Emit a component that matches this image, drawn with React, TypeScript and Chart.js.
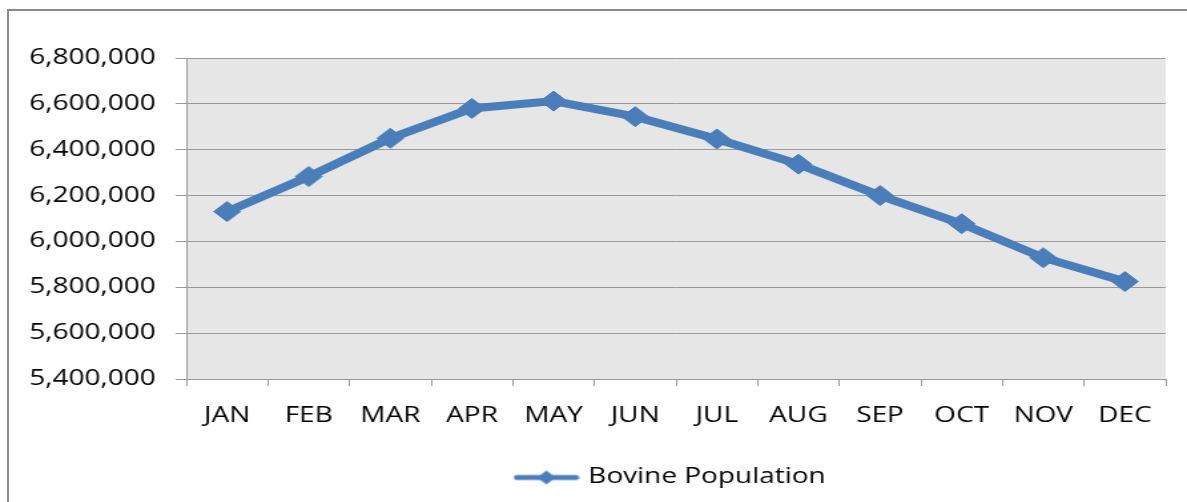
import React, { useEffect, useRef } from "react";
import { Chart, registerables } from "chart.js";

Chart.register(...registerables);

const months = ["JAN", "FEB", "MAR", "APR", "MAY", "JUN", "JUL", "AUG", "SEP", "OCT", "NOV", "DEC"];
const bovinePopulation = [6130000, 6283000, 6450000, 6580000, 6612000, 6544000, 6447000, 6337000, 6200000, 6077000, 5929000, 5825000];
const seriesLabel = "Bovine Population";
const yMin = 5400000;
const yMax = 6800000;
const yStep = 200000;

const LOGICAL_W = 892;
const LOGICAL_H = 502;
const STRETCH = 1187 / LOGICAL_W;
const BLUE = "#4A7EBB";
const GRID = "#9a9a9a";

function makeLegendSymbol(): HTMLCanvasElement {
  const c = document.createElement("canvas");
  c.width = 50;
  c.height = 16;
  const ctx = c.getContext("2d")!;
  ctx.strokeStyle = BLUE;
  ctx.lineWidth = 5;
  ctx.lineCap = "round";
  ctx.beginPath();
  ctx.moveTo(3, 8);
  ctx.lineTo(47, 8);
  ctx.stroke();
  ctx.fillStyle = BLUE;
  ctx.beginPath();
  ctx.moveTo(25, 1);
  ctx.lineTo(32, 8);
  ctx.lineTo(25, 15);
  ctx.lineTo(18, 8);
  ctx.closePath();
  ctx.fill();
  return c;
}

const plotBackground = {
  id: "plotBackground",
  beforeDraw(chart: any) {
    const { ctx, chartArea } = chart;
    ctx.save();
    ctx.fillStyle = "#e6e6e6";
    ctx.fillRect(chartArea.left, chartArea.top, chartArea.right - chartArea.left, chartArea.bottom - chartArea.top);
    ctx.restore();
  },
};

// centre the legend under the plot area rather than the whole canvas
const legendUnderPlot = {
  id: "legendUnderPlot",
  afterLayout(chart: any) {
    const legend = chart.legend;
    if (!legend) return;
    const shift = -3;
    legend.left = chart.chartArea.left + shift;
    legend.right = chart.chartArea.right + shift;
  },
};

export default function App() {
  const canvasRef = useRef<HTMLCanvasElement | null>(null);

  useEffect(() => {
    if (!canvasRef.current) return;
    const symbol = makeLegendSymbol();
    const chart = new Chart(canvasRef.current, {
      type: "line",
      data: {
        labels: months,
        datasets: [
          {
            label: seriesLabel,
            data: bovinePopulation,
            borderColor: BLUE,
            backgroundColor: BLUE,
            borderWidth: 8,
            pointStyle: "rectRot",
            pointRadius: 10,
            pointBorderWidth: 1,
            pointBackgroundColor: BLUE,
            pointBorderColor: BLUE,
            tension: 0,
          },
        ],
      },
      plugins: [plotBackground, legendUnderPlot],
      options: {
        animation: false,
        responsive: true,
        maintainAspectRatio: false,
        font: { family: "'Open Sans'", size: 21 },
        color: "#000",
        layout: { padding: { top: 58, right: 16, bottom: 4, left: 0 } },
        plugins: {
          tooltip: { enabled: false },
          legend: {
            position: "bottom",
            labels: {
              usePointStyle: true,
              pointStyle: symbol as any,
              pointStyleWidth: 42,
              padding: 10,
              color: "#000",
              font: { family: "'Open Sans'", size: 21 },
            },
          },
        },
        scales: {
          x: {
            type: "category",
            offset: true,
            afterFit(scale: any) {
              scale.height = 78;
            },
            grid: {
              offset: true,
              drawOnChartArea: false,
              drawTicks: true,
              tickLength: 7,
              color: GRID,
            },
            border: { color: GRID, width: 1 },
            ticks: {
              color: "#000",
              padding: 17,
              maxRotation: 0,
              autoSkip: false,
              font: { family: "'Open Sans'", size: 21 },
            },
          },
          y: {
            type: "linear",
            min: yMin,
            max: yMax,
            afterFit(scale: any) {
              scale.width = 140;
            },
            grid: { color: GRID, tickLength: 8, drawTicks: true },
            border: { color: GRID, width: 1 },
            ticks: {
              stepSize: yStep,
              color: "#000",
              padding: 15,
              font: { family: "'Open Sans'", size: 21 },
              callback: (v: any) => Number(v).toLocaleString("en-US"),
            },
          },
        },
      },
    });
    return () => chart.destroy();
  }, []);

  return (
    <>
      <div
        style={{
          position: "fixed",
          left: 7,
          top: 9,
          width: 2000,
          height: 1000,
          borderLeft: "2px solid #8a8a8a",
          borderTop: "2px solid #8a8a8a",
          boxSizing: "border-box",
        }}
      />
      <div
        style={{
          position: "fixed",
          left: 0,
          top: 0,
          width: LOGICAL_W,
          height: LOGICAL_H,
          transform: `scaleX(${STRETCH})`,
          transformOrigin: "0 0",
        }}
      >
        <div style={{ position: "relative", width: LOGICAL_W, height: LOGICAL_H }}>
          <canvas ref={canvasRef} />
        </div>
      </div>
    </>
  );
}
